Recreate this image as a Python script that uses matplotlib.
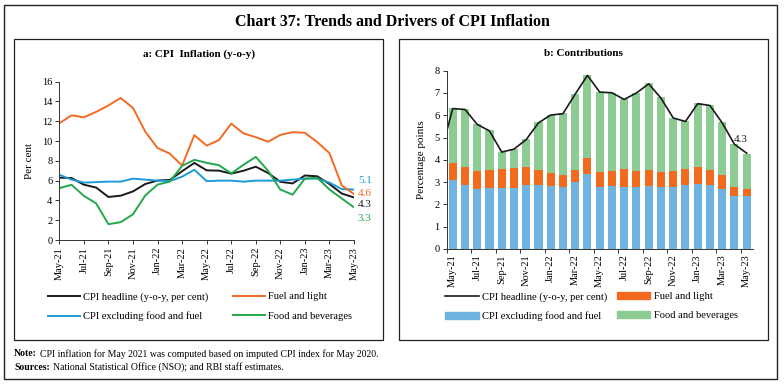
import matplotlib
matplotlib.use("Agg")
import matplotlib.pyplot as plt
from matplotlib.patches import Rectangle, Patch
from matplotlib.lines import Line2D
import numpy as np

plt.rcParams['font.family'] = ['Liberation Serif', 'DejaVu Serif']

months = ['May-21', 'Jun-21', 'Jul-21', 'Aug-21', 'Sep-21', 'Oct-21', 'Nov-21', 'Dec-21',
          'Jan-22', 'Feb-22', 'Mar-22', 'Apr-22', 'May-22', 'Jun-22', 'Jul-22', 'Aug-22',
          'Sep-22', 'Oct-22', 'Nov-22', 'Dec-22', 'Jan-23', 'Feb-23', 'Mar-23', 'Apr-23', 'May-23']

# panel a: y-o-y inflation, per cent
headline = [6.30, 6.26, 5.59, 5.30, 4.35, 4.48, 4.91, 5.66, 6.01, 6.07, 6.95, 7.79, 7.04,
            7.01, 6.71, 7.00, 7.41, 6.77, 5.88, 5.72, 6.52, 6.44, 5.66, 4.70, 4.30]
fuel = [11.8, 12.6, 12.4, 12.95, 13.6, 14.35, 13.35, 10.95, 9.3, 8.73, 7.52, 10.6, 9.54,
        10.1, 11.76, 10.78, 10.39, 9.93, 10.62, 10.9, 10.84, 9.9, 8.78, 5.52, 4.64]
core = [6.6, 6.1, 5.8, 5.85, 5.9, 5.9, 6.2, 6.1, 6.0, 5.95, 6.4, 7.1, 5.95, 6.0, 6.0, 5.9,
        6.0, 6.0, 6.0, 6.1, 6.2, 6.2, 5.8, 5.15, 5.1]
food = [5.24, 5.58, 4.46, 3.7, 1.6, 1.8, 2.6, 4.5, 5.6, 5.9, 7.5, 8.1, 7.8, 7.56, 6.73,
        7.6, 8.4, 7.0, 5.1, 4.58, 6.2, 6.3, 5.1, 4.2, 3.3]

# panel b: contributions, percentage points
contrib_core = [3.10, 2.85, 2.70, 2.75, 2.75, 2.72, 2.85, 2.87, 2.83, 2.77, 3.02, 3.36, 2.80,
                2.83, 2.80, 2.78, 2.83, 2.80, 2.80, 2.85, 2.93, 2.88, 2.70, 2.40, 2.40]
contrib_fuel = [0.75, 0.82, 0.80, 0.79, 0.83, 0.90, 0.82, 0.67, 0.57, 0.53, 0.52, 0.71, 0.65,
                0.65, 0.78, 0.72, 0.71, 0.65, 0.70, 0.73, 0.74, 0.66, 0.60, 0.37, 0.30]
contrib_food = [2.48, 2.63, 2.10, 1.81, 0.77, 0.88, 1.28, 2.16, 2.62, 2.80, 3.41, 3.73, 3.60,
                3.52, 3.14, 3.50, 3.91, 3.35, 2.38, 2.17, 2.88, 2.94, 2.42, 1.95, 1.58]
headline_apr21 = 4.23  # previous month, line is clipped at the axis edge

c_black = '#1a1a1a'
c_orange = '#F26B22'
c_blue = '#1E9BD7'
c_green = '#22A84B'
b_blue = '#6FB3E0'
b_orange = '#F26A1D'
b_green = '#8CCB92'

W, H = 784, 385
fig = plt.figure(figsize=(W / 100, H / 100), dpi=100)


def px_rect(x0, y0, x1, y1):
    return [x0 / W, 1 - y1 / H, (x1 - x0) / W, (y1 - y0) / H]


def box(x0, y0, x1, y1, lw=1.0):
    fig.patches.append(Rectangle((x0 / W, 1 - y1 / H), (x1 - x0) / W, (y1 - y0) / H,
                                 transform=fig.transFigure, fill=False,
                                 edgecolor='#222222', linewidth=lw))


box(4, 5, 777, 379)
box(14, 39, 383, 340, 0.9)
box(399, 39, 768, 340, 0.9)

fig.text(0.5, 1 - 22 / H, 'Chart 37: Trends and Drivers of CPI Inflation', ha='center',
         va='center', fontsize=11.5, fontweight='bold')
fig.text(199 / W, 1 - 54 / H, 'a: CPI  Inflation (y-o-y)', ha='center', va='center',
         fontsize=8, fontweight='bold')
fig.text(583 / W, 1 - 54 / H, 'b: Contributions', ha='center', va='center',
         fontsize=8, fontweight='bold')

x = np.arange(len(months))


def style_axis(ax):
    for s in ['top', 'right']:
        ax.spines[s].set_visible(False)
    for s in ['left', 'bottom']:
        ax.spines[s].set_linewidth(0.7)
        ax.spines[s].set_color('#333333')
    ax.tick_params(labelsize=7.5, width=0.7, length=3, color='#333333', pad=2)


# ---- panel a
ax1 = fig.add_axes(px_rect(59.3, 81.7, 354, 240))
ax1.plot(x, headline, color=c_black, lw=1.4, label='CPI headline (y-o-y, per cent)')
ax1.plot(x, core, color=c_blue, lw=1.4, label='CPI excluding food and fuel')
ax1.plot(x, fuel, color=c_orange, lw=1.4, label='Fuel and light')
ax1.plot(x, food, color=c_green, lw=1.4, label='Food and beverages')
ax1.set_xlim(0, 24)
ax1.set_ylim(0, 16)
ax1.set_yticks(range(0, 17, 2))
ax1.set_xticks(x[::2])
ax1.set_xticklabels(months[::2], rotation=90)
ax1.set_ylabel('Per cent', fontsize=8, labelpad=6)
style_axis(ax1)

ends = [(core, c_blue, 9), (fuel, c_orange, 1), (headline, c_black, -7), (food, c_green, -11)]
for ser, col, dy in ends:
    ax1.annotate(f'{ser[-1]:.1f}', xy=(24, ser[-1]), xytext=(4, dy),
                 textcoords='offset pixels', color=col, fontsize=8, va='center',
                 annotation_clip=False)

ax1.legend(loc='upper left', bbox_to_anchor=(48 / W, 1 - 292 / H),
           bbox_transform=fig.transFigure, ncol=2, frameon=False, fontsize=7.6,
           handlelength=3.0, handletextpad=0.3, columnspacing=2.4, labelspacing=0.95,
           borderaxespad=0, borderpad=0)

# ---- panel b
ax2 = fig.add_axes(px_rect(446.6, 70.7, 752.8, 249))
bw = 0.66
ax2.bar(x, contrib_core, bw, color=b_blue)
ax2.bar(x, contrib_fuel, bw, bottom=contrib_core, color=b_orange)
bottom2 = np.array(contrib_core) + np.array(contrib_fuel)
ax2.bar(x, contrib_food, bw, bottom=bottom2, color=b_green)
xl = np.arange(-1, len(months))
ax2.plot(xl, [headline_apr21] + headline, color=c_black, lw=1.2)
ax2.set_xlim(-0.5, 24.5)
ax2.set_ylim(0, 8)
ax2.set_yticks(range(0, 9))
ax2.set_xticks(x[::2])
ax2.set_xticklabels(months[::2], rotation=90)
ax2.set_xticks(np.arange(-0.5, 25, 2), minor=True)
ax2.set_ylabel('Percentage points', fontsize=8, labelpad=6)
style_axis(ax2)
ax2.tick_params(axis='x', which='major', length=0, pad=4)
ax2.tick_params(axis='x', which='minor', length=3, width=0.7, color='#333333')
ax2.annotate(f'{headline[-1]:.1f}', xy=(24, headline[-1]), xytext=(-6, 14),
             textcoords='offset pixels', color=c_black, fontsize=8, ha='center',
             va='center')

handles = [Line2D([], [], color=c_black, lw=1.2),
           Patch(color=b_blue), Patch(color=b_orange), Patch(color=b_green)]
labels = ['CPI headline (y-o-y, per cent)', 'CPI excluding food and fuel',
          'Fuel and light', 'Food and beverages']
ax2.legend(handles, labels, loc='upper left',
           bbox_to_anchor=(445 / W, 1 - 292 / H), bbox_transform=fig.transFigure,
           ncol=2, frameon=False, fontsize=7.6, handlelength=3.2, handleheight=0.55,
           handletextpad=0.3, columnspacing=0.9, labelspacing=0.95,
           borderaxespad=0, borderpad=0)

note_b = fig.text(14 / W, 1 - 354 / H, 'Note:', fontsize=7, fontweight='bold', va='center')
ax1.annotate('CPI inflation for May 2021 was computed based on imputed CPI index for May 2020.',
             xy=(1, 0.5), xycoords=note_b, xytext=(2, 0), textcoords='offset points',
             fontsize=7, va='center', annotation_clip=False)
src_b = fig.text(14 / W, 1 - 367 / H, 'Sources:', fontsize=7, fontweight='bold', va='center')
ax1.annotate('National Statistical Office (NSO); and RBI staff estimates.',
             xy=(1, 0.5), xycoords=src_b, xytext=(2, 0), textcoords='offset points',
             fontsize=7, va='center', annotation_clip=False)

fig.savefig('out.png', dpi=100)
